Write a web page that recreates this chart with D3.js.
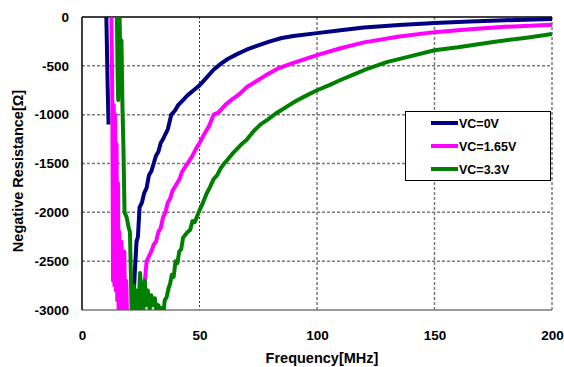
<!DOCTYPE html>
<html>
<head>
<meta charset="utf-8">
<script src="https://cdn.jsdelivr.net/npm/d3@7"></script>
<style>
  body { margin: 0; background: #fff; }
  text { font-family: "Liberation Sans", Arial, sans-serif; font-weight: bold; }
</style>
</head>
<body>
<script>
// tick labels
let xTicks = [0, 50, 100, 150, 200]
let yTicks = [0, -500, -1000, -1500, -2000, -2500, -3000]

// VC=0V  (null = trace hidden / off scale)
let blueFreq = [10.2, 10.6, 10.9, 11.3, 11.6, 21.5, 22.5, 23.2, 23.8, 24.5, 25.5, 26.5, 27.5, 28.5, 29.5, 30.5, 31.5, 32.5, 33.5, 34.5, 35.5, 36.5, 38, 39.5, 41, 43, 45, 47.5, 50, 53, 56, 59, 62, 66, 70, 75, 80, 85, 90, 100, 110, 120, 135, 150, 165, 180, 200]
let blueRes = [200, -300, -700, -1100, null, -3100, -2600, -2300, -2250, -1950, -1900, -1800, -1750, -1620, -1580, -1500, -1420, -1380, -1290, -1250, -1200, -1150, -1000, -960, -900, -850, -800, -750, -700, -620, -540, -480, -430, -380, -335, -290, -250, -215, -195, -165, -135, -108, -82, -62, -45, -33, -20]

// VC=1.65V
let pinkFreq = [12.4, 12.7, 12.9, 13.2, 13.5, 13.8, 14.1, 14.4, 14.7, 15, 15.3, 15.6, 15.9, 16.2, 16.5, 16.8, 17.1, 17.4, 17.7, 18, 18.4, 18.8, 19.2, 24.5, 25.2, 26, 26.8, 27.5, 28.5, 29.5, 30.5, 31.5, 32.5, 33.5, 34.5, 35.5, 36.5, 37.5, 38.5, 39.5, 40.5, 41.5, 42.5, 44, 45.5, 47, 48.5, 50, 52, 54, 56, 58, 61, 64, 67, 70, 74, 78, 84, 90, 100, 110, 120, 135, 150, 165, 180, 200]
let pinkRes = [200, -400, -880, -2700, -900, -2750, -1000, -2800, -1300, -2900, -1700, -3100, -2200, -2800, -3100, -2300, -3000, -2500, -3100, -2400, -3100, -2700, -3100, -3100, -2850, -2760, -2700, -2500, -2450, -2400, -2330, -2300, -2200, -2160, -2050, -2000, -1900, -1860, -1780, -1740, -1700, -1660, -1590, -1530, -1480, -1420, -1350, -1290, -1200, -1120, -1000, -980, -900, -840, -790, -720, -660, -600, -520, -470, -390, -320, -260, -200, -155, -125, -100, -80]

// VC=3.3V
let greenFreq = [14.8, 15.1, 15.4, 15.7, 16, 16.4, 16.8, 17.2, 17.6, 18.1, 19, 19.8, 20.4, 21.2, 22, 22.6, 23.3, 24, 24.7, 25.4, 26, 26.7, 27.4, 28, 28.8, 29.5, 30.3, 31, 31.8, 32.5, 33.2, 34, 34.6, 35.2, 36, 36.8, 37.5, 38.2, 39, 39.8, 40.6, 41.4, 42.2, 43, 44, 45, 46, 47, 48, 49, 50, 51.5, 53, 54.5, 56, 57.5, 59, 60.5, 62, 64, 66, 68, 70, 73, 76, 79, 83, 87, 91, 95, 100, 105, 110, 116, 122, 130, 140, 150, 160, 175, 190, 200]
let greenRes = [200, -500, -850, -300, 0, -600, -240, -900, -1300, -2000, -2050, -2150, -2200, -3100, -2750, -3100, -2800, -3000, -2620, -2900, -3050, -2700, -2950, -2800, -3000, -2850, -2950, -2880, -3050, -2950, -3000, -2980, -3050, -2900, -2870, -2780, -2730, -2640, -2660, -2500, -2520, -2400, -2380, -2260, -2230, -2200, -2180, -2090, -2100, -2040, -1980, -1900, -1810, -1740, -1660, -1620, -1550, -1500, -1460, -1400, -1350, -1300, -1260, -1170, -1100, -1050, -980, -920, -860, -810, -750, -700, -645, -585, -525, -460, -400, -340, -310, -255, -210, -175]

let seriesNames = ['VC=0V', 'VC=1.65V', 'VC=3.3V']
let seriesColors = ['#000080', '#ff00ff', '#008000']

let W = 564, H = 367
let plot = { left: 82, right: 552, top: 17, bottom: 310 }

let svg = d3.select('body').append('svg')
    .attr('width', W)
    .attr('height', H)

let xScale = d3.scaleLinear().domain([0, 200]).range([plot.left, plot.right])
let yScale = d3.scaleLinear().domain([-3000, 0]).range([plot.bottom, plot.top])

// grid lines
svg.append('g')
    .selectAll('line')
    .data(yTicks.filter(d => d !== 0 && d !== -3000))
    .enter().append('line')
    .attr('x1', plot.left).attr('x2', plot.right)
    .attr('y1', d => yScale(d)).attr('y2', d => yScale(d))
    .attr('stroke', '#7a7a7a').attr('stroke-width', 1.5)
    .attr('stroke-dasharray', '3,2')

svg.append('g')
    .selectAll('line')
    .data(xTicks.filter(d => d !== 0))
    .enter().append('line')
    .attr('x1', d => xScale(d)).attr('x2', d => xScale(d))
    .attr('y1', plot.top).attr('y2', plot.bottom)
    .attr('stroke', (d, i) => i === 0 ? '#333' : '#7a7a7a')
    .attr('stroke-width', (d, i) => i === 0 ? 1 : 1.5)
    .attr('stroke-dasharray', (d, i) => i === 0 ? '2,2' : '3,2')

// frame
svg.append('line')
    .attr('x1', plot.left).attr('x2', plot.right)
    .attr('y1', plot.bottom).attr('y2', plot.bottom)
    .attr('stroke', '#7a7a7a').attr('stroke-width', 1.5)
svg.append('line')
    .attr('x1', plot.left).attr('x2', plot.right)
    .attr('y1', plot.top).attr('y2', plot.top)
    .attr('stroke', '#000').attr('stroke-width', 1.3)
svg.append('line')
    .attr('x1', plot.left).attr('x2', plot.left)
    .attr('y1', plot.top).attr('y2', plot.bottom)
    .attr('stroke', '#000').attr('stroke-width', 1.5)

// clip
svg.append('clipPath').attr('id', 'clip')
    .append('rect')
    .attr('x', plot.left).attr('y', plot.top)
    .attr('width', plot.right - plot.left).attr('height', plot.bottom - plot.top)

let series = [
    blueFreq.map((f, i) => [f, blueRes[i]]),
    pinkFreq.map((f, i) => [f, pinkRes[i]]),
    greenFreq.map((f, i) => [f, greenRes[i]])
]

let line = d3.line()
    .defined(d => d[1] !== null)
    .x(d => xScale(d[0]))
    .y(d => yScale(d[1]))

let lines = svg.append('g').attr('clip-path', 'url(#clip)')
series.forEach((s, i) => {
    lines.append('path')
        .datum(s)
        .attr('fill', 'none')
        .attr('stroke', seriesColors[i])
        .attr('stroke-width', 4)
        .attr('stroke-linejoin', 'round')
        .attr('d', line)
})

// axes (labels only)
let xAxis = svg.append('g')
    .attr('transform', 'translate(0,' + (plot.bottom + 20) + ')')
    .call(d3.axisBottom(xScale).tickValues(xTicks).tickSize(0).tickPadding(0).tickFormat(d => String(d)))
xAxis.select('.domain').remove()
xAxis.selectAll('text').attr('font-size', 13.5).attr('fill', '#000')
    .attr('font-family', '"Liberation Sans", Arial, sans-serif').attr('font-weight', 'bold')

let yAxis = svg.append('g')
    .attr('transform', 'translate(' + (plot.left - 13) + ',0)')
    .call(d3.axisLeft(yScale).tickValues(yTicks).tickSize(0).tickPadding(0).tickFormat(d => String(d)))
yAxis.select('.domain').remove()
yAxis.selectAll('text').attr('font-size', 13.5).attr('fill', '#000')
    .attr('font-family', '"Liberation Sans", Arial, sans-serif').attr('font-weight', 'bold')

// axis titles
svg.append('text')
    .attr('x', 322)
    .attr('y', 363)
    .attr('text-anchor', 'middle')
    .attr('font-size', 14.5)
    .text('Frequency[MHz]')

svg.append('text')
    .attr('transform', 'translate(23,171) rotate(-90)')
    .attr('text-anchor', 'middle')
    .attr('font-size', 14.5)
    .text('Negative Resistance[Ω]')

// legend
let legend = svg.append('g')
legend.append('rect')
    .attr('x', 405.5).attr('y', 111.5)
    .attr('width', 145).attr('height', 69)
    .attr('fill', '#fff').attr('stroke', '#000').attr('stroke-width', 1)
seriesNames.forEach((name, i) => {
    let y = 123 + i * 23
    legend.append('line')
        .attr('x1', 431).attr('x2', 458)
        .attr('y1', y).attr('y2', y)
        .attr('stroke', seriesColors[i]).attr('stroke-width', 4)
    legend.append('text')
        .attr('x', 459).attr('y', y + 4.5)
        .attr('font-size', 12.5)
        .text(name)
})
</script>
</body>
</html>
